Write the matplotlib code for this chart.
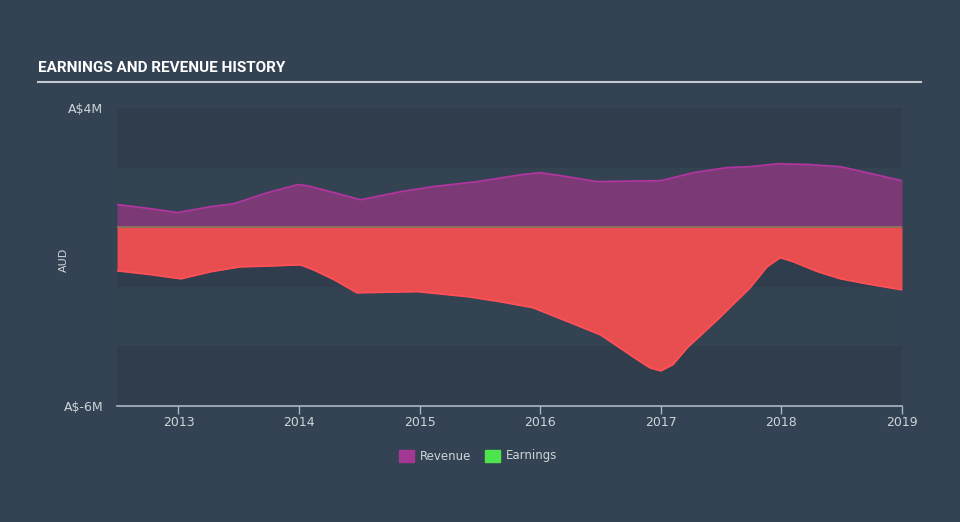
import matplotlib
matplotlib.use('Agg')
import matplotlib.pyplot as plt
from matplotlib.patches import Rectangle

# revenue (A$ millions)
rev_years = [2012.49, 2012.77, 2012.99, 2013.27, 2013.46, 2013.74, 2013.99, 2014.07,
             2014.29, 2014.51, 2014.84, 2015.11, 2015.48, 2015.84, 2016.00, 2016.23,
             2016.47, 2017.00, 2017.27, 2017.55, 2017.74, 2017.97, 2018.24, 2018.49,
             2018.71, 2019.00]
revenue = [0.76, 0.62, 0.49, 0.69, 0.79, 1.16, 1.43, 1.39,
           1.16, 0.92, 1.19, 1.36, 1.53, 1.76, 1.83, 1.69,
           1.53, 1.56, 1.83, 2.00, 2.03, 2.13, 2.10, 2.03,
           1.83, 1.56]

# earnings (A$ millions)
earn_years = [2012.49, 2012.77, 2013.02, 2013.27, 2013.51, 2013.82, 2014.01, 2014.12,
              2014.29, 2014.48, 2014.98, 2015.40, 2015.67, 2015.94, 2016.23, 2016.50,
              2016.77, 2016.91, 2017.00, 2017.10, 2017.22, 2017.47, 2017.74, 2017.88,
              2017.99, 2018.10, 2018.30, 2018.49, 2018.71, 2019.00]
earnings = [-1.46, -1.59, -1.73, -1.49, -1.33, -1.29, -1.26, -1.43,
            -1.76, -2.20, -2.16, -2.33, -2.50, -2.70, -3.17, -3.61,
            -4.35, -4.72, -4.82, -4.61, -4.04, -3.10, -2.03, -1.33,
            -1.02, -1.16, -1.49, -1.73, -1.90, -2.10]

year_ticks = [2013, 2014, 2015, 2016, 2017, 2018, 2019]
y_ticks = [4, -6]
y_labels = ['A$4M', 'A$-6M']

bg = '#344353'
txt = '#cdd4da'

fig = plt.figure(figsize=(9.6, 5.22), dpi=100)
fig.patch.set_facecolor(bg)

# title and rule under it
fig.text(38 / 960, 1 - 68 / 522, 'EARNINGS AND REVENUE HISTORY', color='white',
         fontsize=11, fontweight='bold', family='Roboto', va='center', ha='left')
fig.add_artist(plt.Line2D([38 / 960, 921 / 960], [1 - 81.5 / 522, 1 - 81.5 / 522],
                          color='#c3cacf', lw=1.5, transform=fig.transFigure))

ax = fig.add_axes([117 / 960, (522 - 406) / 522, (902 - 117) / 960, (406 - 108) / 522])
ax.set_facecolor(bg)
ax.set_xlim(2012.49, 2019.0)
ax.set_ylim(-6, 4)

# alternating horizontal bands
band_cols = ['#2f3d4c', '#334352']
for i, lo in enumerate(range(-6, 4, 2)):
    ax.axhspan(lo, lo + 2, color=band_cols[i % 2], lw=0, zorder=0)

ax.fill_between(rev_years, revenue, 0, color='#7b3a76', lw=0, zorder=2)
ax.plot(rev_years, revenue, color='#b0359f', lw=1.3, zorder=3)
ax.fill_between(earn_years, earnings, 0, color='#e84e50', lw=0, zorder=2)
ax.plot(earn_years, earnings, color='#ff5058', lw=1.3, zorder=3)
ax.axhline(0, color='#8f7a58', lw=1.2, zorder=4)

for s in ['top', 'right', 'left']:
    ax.spines[s].set_visible(False)
ax.spines['bottom'].set_color('#a9b8c6')
ax.spines['bottom'].set_linewidth(1.2)

ax.set_xticks(year_ticks)
ax.set_xticklabels([str(y) for y in year_ticks])
ax.tick_params(axis='x', color='#a9b8c6', labelcolor=txt, labelsize=9,
               length=6, width=1, direction='out', pad=1)
ax.set_yticks(y_ticks)
ax.set_yticklabels(y_labels)
ax.tick_params(axis='y', length=0, labelcolor=txt, labelsize=9, pad=10)

fig.text(64 / 960, 1 - 260 / 522, 'AUD', color=txt, fontsize=8, rotation=90,
         va='center', ha='center')

# legend
for x0, col, lab in [(399, '#a23894', 'Revenue'), (485, '#4ee44e', 'Earnings')]:
    fig.add_artist(Rectangle((x0 / 960, 1 - 462 / 522), 15 / 960, 12 / 522,
                             color=col, transform=fig.transFigure))
    fig.text((x0 + 21) / 960, 1 - 456 / 522, lab, color=txt, fontsize=8.5,
             va='center', ha='left')

fig.savefig('out.png', dpi=100, facecolor=bg)
